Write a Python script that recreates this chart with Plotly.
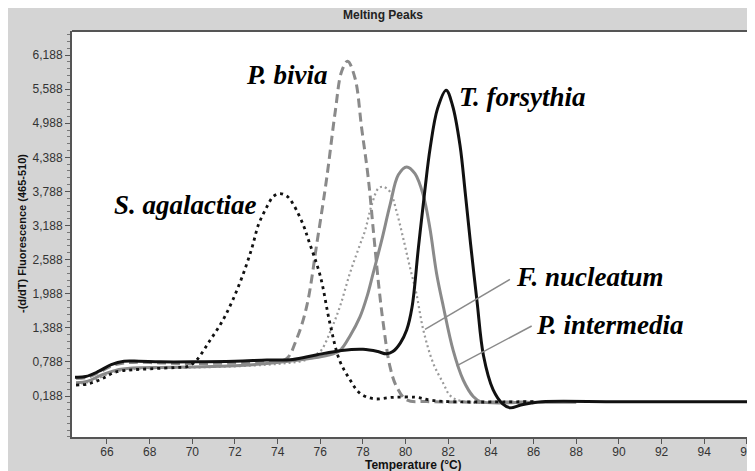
import plotly.graph_objects as go

# ---------------- data ----------------
forsythia_t = [64.5, 65.0, 65.6, 66.2, 66.8, 67.5, 68.5, 70.0, 72.0, 73.5, 74.7, 75.8, 77.0, 78.0, 78.7,
               79.1, 79.4, 79.75, 80.05, 80.3, 80.6, 80.9, 81.15, 81.5, 81.9, 82.2, 82.55, 82.8, 83.05,
               83.35, 83.65, 84.1, 84.55, 84.9, 85.4, 85.9, 86.4, 90.0, 96.4]
forsythia_v = [0.52, 0.53, 0.62, 0.74, 0.80, 0.80, 0.79, 0.79, 0.80, 0.82, 0.83, 0.91, 0.99, 1.01, 0.97,
               0.93, 0.97, 1.12, 1.35, 1.75, 2.80, 3.80, 4.55, 5.25, 5.57, 5.30, 4.60, 3.75, 2.85,
               1.85, 0.90, 0.30, 0.05, -0.02, 0.03, 0.065, 0.088, 0.088, 0.088]

agalactiae_t = [64.55, 65.1, 65.7, 66.4, 67.2, 68.2, 69.2, 69.8, 70.2, 70.8, 71.4, 71.9, 72.4, 72.8, 73.1,
                73.5, 73.8, 74.1, 74.45, 74.75, 75.2, 75.45, 76.0, 76.45, 76.9, 77.4, 77.85, 78.5, 79.4,
                80.5, 81.1, 82.0, 86.0]
agalactiae_v = [0.38, 0.40, 0.48, 0.61, 0.65, 0.67, 0.69, 0.71, 0.82, 1.15, 1.50, 1.88, 2.35, 2.80, 3.20,
                3.52, 3.70, 3.75, 3.70, 3.55, 3.20, 2.93, 2.30, 1.47, 0.82, 0.47, 0.24, 0.14, 0.165,
                0.165, 0.12, 0.09, 0.09]

bivia_t = [64.55, 65.1, 65.7, 66.4, 67.2, 68.5, 70.0, 72.0, 73.5, 74.4, 74.9, 75.36, 75.85, 76.3, 76.7,
           77.0, 77.28, 77.63, 77.94, 78.25, 78.52, 78.75, 78.95, 79.27, 79.58, 80.05, 81.0, 86.0]
bivia_v = [0.50, 0.52, 0.62, 0.74, 0.78, 0.77, 0.76, 0.77, 0.79, 0.84, 1.20, 1.76, 2.90, 4.02, 5.19,
           5.90, 6.08, 5.78, 4.90, 4.02, 2.97, 2.10, 1.47, 0.70, 0.35, 0.12, 0.09, 0.085]

nucleatum_t = [64.55, 65.1, 65.7, 66.4, 67.2, 68.5, 70.0, 72.0, 73.5, 74.5, 75.3, 75.8, 76.06, 76.5, 76.92,
               77.39, 77.86, 78.1, 78.41, 78.72, 78.95, 79.27, 79.58, 79.89, 80.2, 80.5, 80.83, 81.3,
               81.77, 82.08, 82.6, 86.0]
nucleatum_v = [0.40, 0.43, 0.52, 0.62, 0.66, 0.68, 0.69, 0.71, 0.74, 0.77, 0.82, 0.92, 1.00, 1.35, 1.76,
               2.35, 2.85, 3.10, 3.55, 3.84, 3.87, 3.78, 3.43, 2.96, 2.46, 2.00, 1.35, 0.76,
               0.41, 0.20, 0.10, 0.085]

intermedia_t = [64.55, 65.1, 65.7, 66.4, 67.2, 68.5, 70.0, 72.0, 73.5, 74.5, 75.5, 76.3, 76.92, 77.4, 77.86,
                78.2, 78.48, 78.88, 79.27, 79.66, 80.05, 80.44, 80.83, 81.14, 81.45, 81.77, 82.23, 82.7,
                83.17, 83.5, 86.0, 88.0]
intermedia_v = [0.42, 0.45, 0.55, 0.64, 0.68, 0.69, 0.70, 0.72, 0.76, 0.80, 0.85, 0.90, 0.99, 1.25, 1.58,
                1.95, 2.35, 2.93, 3.55, 4.08, 4.22, 4.10, 3.72, 3.14, 2.35, 1.76, 0.99, 0.47,
                0.18, 0.09, 0.08, 0.08]

y_tickvals = [0.188, 0.788, 1.388, 1.988, 2.588, 3.188, 3.788, 4.388, 4.988, 5.588, 6.188]
y_ticktext = ["0,188", "0,788", "1,388", "1,988", "2,588", "3,188", "3,788", "4,388", "4,988", "5,588", "6,188"]
x_tickvals = [66, 68, 70, 72, 74, 76, 78, 80, 82, 84, 86, 88, 90, 92, 94, 96]

labels = ["S. agalactiae", "P. bivia", "T. forsythia", "F. nucleatum", "P. intermedia"]
label_x = [69.66, 74.46, 85.46, 88.64, 89.58]
label_y = [3.55, 5.84, 5.45, 2.28, 1.44]

# leader lines (temperature, value) start/end
leader_nuc = [(84.89, 2.24), (80.91, 1.36)]
leader_int = [(85.91, 1.42), (82.39, 0.72)]

# ---------------- figure ----------------
GRAY = "#8a8a8a"
fig = go.Figure()
fig.add_trace(go.Scatter(x=nucleatum_t, y=nucleatum_v, mode="lines", line_shape="spline",
                         line=dict(color="#9a9a9a", width=2.2, dash="2px,3px")))
fig.add_trace(go.Scatter(x=intermedia_t, y=intermedia_v, mode="lines", line_shape="spline",
                         line=dict(color=GRAY, width=3)))
fig.add_trace(go.Scatter(x=bivia_t, y=bivia_v, mode="lines", line_shape="spline",
                         line=dict(color=GRAY, width=3, dash="9px,5px")))
fig.add_trace(go.Scatter(x=agalactiae_t, y=agalactiae_v, mode="lines", line_shape="spline",
                         line=dict(color="#111111", width=2.8, dash="3px,4px")))
fig.add_trace(go.Scatter(x=forsythia_t, y=forsythia_v, mode="lines", line_shape="spline",
                         line=dict(color="#111111", width=3)))

shapes = []
for (a, b) in (leader_nuc, leader_int):
    shapes.append(dict(type="line", xref="x", yref="y", x0=a[0], y0=a[1], x1=b[0], y1=b[1],
                       line=dict(color="#8a8a8a", width=1.5)))
# top frame line
shapes.append(dict(type="line", xref="paper", yref="paper", x0=0, x1=1, y0=1, y1=1,
                   line=dict(color="#555555", width=2)))

annotations = []
for t, x, y in zip(labels, label_x, label_y):
    annotations.append(dict(x=x, y=y, xref="x", yref="y", text="<b><i>%s</i></b>" % t, showarrow=False,
                            xanchor="center", yanchor="middle",
                            font=dict(family="Liberation Serif", size=27, color="#000000")))
annotations.append(dict(x=0.455, y=1.039, xref="paper", yref="paper", text="<b>Melting Peaks</b>",
                        showarrow=False, xanchor="center", yanchor="middle",
                        font=dict(family="Liberation Sans", size=12, color="#222222")))
annotations.append(dict(x=0.5, y=-0.07, xref="paper", yref="paper", text="<b>Temperature (°C)</b>",
                        showarrow=False, xanchor="center", yanchor="middle",
                        font=dict(family="Liberation Sans", size=12, color="#111111")))
annotations.append(dict(x=-0.0732, y=0.5, xref="paper", yref="paper",
                        text="<b>-(d/dT) Fluorescence (465-510)</b>", textangle=-90,
                        showarrow=False, xanchor="center", yanchor="middle",
                        font=dict(family="Liberation Sans", size=11, color="#111111")))

# The page body keeps its default 8px margin, so the figure sits 8px right and down;
# the figure is sized to fill the rest of the 755x471 window exactly.
fig.update_layout(
    width=747, height=463,
    margin=dict(l=64, r=0, t=23, b=34, autoexpand=False),
    paper_bgcolor="#d4d4d4", plot_bgcolor="white",
    showlegend=False,
    shapes=shapes, annotations=annotations,
    xaxis=dict(range=[64.36, 96.38], tickvals=x_tickvals, ticks="outside", ticklen=5,
               tickcolor="#555555", showgrid=False, zeroline=False, showline=True,
               linecolor="#555555", linewidth=2, automargin=False, ticklabelstandoff=-2,
               tickfont=dict(family="Liberation Sans", size=12, color="#333333")),
    yaxis=dict(range=[-0.533, 6.611], tickvals=y_tickvals, ticktext=y_ticktext, ticks="outside",
               ticklen=5, tickcolor="#555555", showgrid=False, zeroline=False, showline=True,
               linecolor="#555555", linewidth=2, automargin=False,
               minor=dict(ticks="outside", ticklen=3, tickcolor="#777777", dtick=0.12, tick0=0.188),
               tickfont=dict(family="Liberation Sans", size=12, color="#333333")),
)

fig.write_html("out.html")
